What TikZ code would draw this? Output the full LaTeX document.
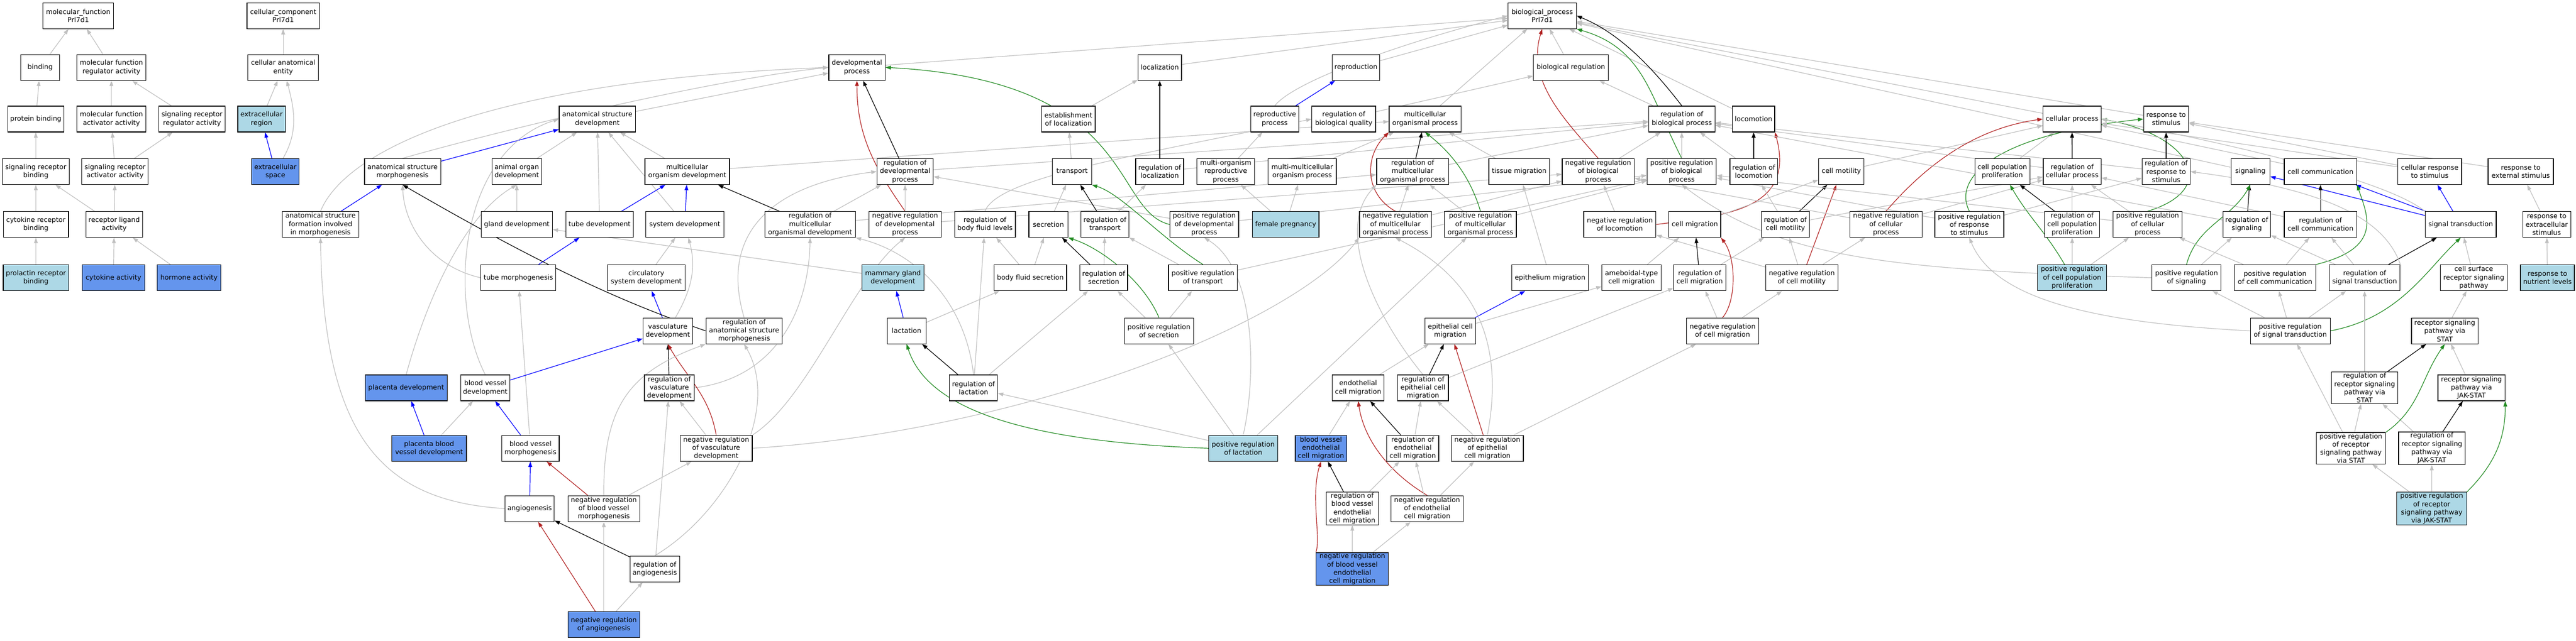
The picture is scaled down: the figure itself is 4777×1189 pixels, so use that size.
\documentclass[tikz,border=0pt]{standalone}
\usepackage{fontspec}
\setmainfont{DejaVu Sans}
\usetikzlibrary{arrows.meta}
\definecolor{egray}{RGB}{192,192,192}
\definecolor{lblue}{RGB}{173,216,230}
\definecolor{cblue}{RGB}{100,149,237}
\definecolor{ered}{RGB}{178,34,34}
\definecolor{egreen}{RGB}{34,139,34}
\pgfdeclarelayer{bg}
\pgfsetlayers{bg,main}
\begin{document}
\begin{tikzpicture}[x=1pt,y=-1pt,
  gobox/.style={draw=black,line width=1.2pt,fill=white,rectangle,align=center,inner xsep=2pt,inner ysep=1.5pt,minimum height=48pt,font=\fontsize{12.5}{15.2}\selectfont},
  lbox/.style={gobox,fill=lblue}, dbox/.style={gobox,fill=cblue},
  edg/.style={line width=1.2pt,-{Triangle[length=10pt,width=7pt]}},
  eGray/.style={edg,draw=egray}, eBlue/.style={edg,draw=blue}, eBlack/.style={edg,draw=black},
  eRed/.style={edg,draw=ered}, eGreen/.style={edg,draw=egreen}]
\useasboundingbox (0,0) rectangle (4777,1189);
% ---------- molecular function ----------
\node[gobox,minimum width=131.3] (mf) at (145.1,29.2) {molecular\_function\\Prl7d1};
\node[gobox,minimum width=72.4] (binding) at (74.5,125.1) {binding};
\node[gobox,minimum width=128.5] (mfreg) at (206.6,125.1) {molecular function\\regulator activity};
\node[gobox,minimum width=104.4] (protbind) at (66.4,221.0) {protein binding};
\node[gobox,minimum width=128.5] (mfact) at (206.6,221.0) {molecular function\\activator activity};
\node[gobox,minimum width=123] (srreg) at (356.1,221.0) {signaling receptor\\regulator activity};
\node[gobox,minimum width=123.4] (srbind) at (66.4,318.5) {signaling receptor\\binding};
\node[gobox,minimum width=123] (sract) at (213.3,318.5) {signaling receptor\\activator activity};
\node[gobox,minimum width=120.6] (crbind) at (66.6,416.7) {cytokine receptor\\binding};
\node[gobox,minimum width=104.8] (rla) at (211.7,416.7) {receptor ligand\\activity};
\node[lbox,minimum width=121.4] (prb) at (66.6,515.6) {prolactin receptor\\binding};
\node[dbox,minimum width=115.5] (cyto) at (210.4,515.6) {cytokine activity};
\node[dbox,minimum width=118.2] (horm) at (350.5,515.6) {hormone activity};
% ---------- cellular component ----------
\node[gobox,minimum width=134.4] (cc) at (525.1,29.2) {cellular\_component\\Prl7d1};
\node[gobox,minimum width=131.3] (cae) at (525.1,125.1) {cellular anatomical\\entity};
\node[lbox,minimum width=88.2] (ecr) at (485,221.0) {extracellular\\region};
\node[dbox,minimum width=88.2] (ecs) at (510.7,318.5) {extracellular\\space};
% ---------- development ----------
\node[gobox,minimum width=141.7] (asfim) at (594.4,416.7) {anatomical structure\\formation involved\\in morphogenesis};
\node[gobox,minimum width=141.2] (asm) at (746.5,318.5) {anatomical structure\\morphogenesis};
\node[gobox,minimum width=141.6] (asd) at (1107.7,221.0) {anatomical structure\\development};
\node[gobox,minimum width=91.7] (aod) at (958.3,318.5) {animal organ\\development};
\node[gobox,minimum width=131.7] (gland) at (958.4,416.7) {gland development};
\node[gobox,minimum width=125.3] (tubedev) at (1111.9,416.7) {tube development};
\node[gobox,minimum width=138.8] (tubemorph) at (961.2,515.6) {tube morphogenesis};
\node[dbox,minimum width=152.2] (placdev) at (753.2,720.0) {placenta development};
\node[gobox,minimum width=91.4] (bvd) at (899.9,720.0) {blood vessel\\development};
\node[dbox,minimum width=138.4] (pbvd) at (795.7,832.2) {placenta blood\\vessel development};
\node[gobox,minimum width=106.3] (bvm) at (983.8,832.2) {blood vessel\\morphogenesis};
\node[gobox,minimum width=91.3] (angio) at (982.2,944.1) {angiogenesis};
\node[gobox,minimum width=133.3] (nrbvm) at (1119.8,944.1) {negative regulation\\of blood vessel\\morphogenesis};
\node[dbox,minimum width=133.3] (nra) at (1119.8,1159.8) {negative regulation\\of angiogenesis};
\node[gobox,minimum width=91.9] (regangio) at (1214.2,1056.3) {regulation of\\angiogenesis};
\node[gobox,minimum width=157.1] (mod) at (1274.5,318.5) {multicellular\\organism development};
\node[gobox,minimum width=144.5] (sysdev) at (1270,416.7) {system development};
\node[gobox,minimum width=144.5] (circ) at (1198.5,515.6) {circulatory\\system development};
\node[gobox,minimum width=91.9] (vascdev) at (1238.3,614.2) {vasculature\\development};
\node[gobox,minimum width=92.4] (regvasc) at (1241.2,720.0) {regulation of\\vasculature\\development};
\node[gobox,minimum width=104.4] (devproc) at (1589.1,125.1) {developmental\\process};
\node[gobox,minimum width=104.4] (rdp) at (1678.4,318.5) {regulation of\\developmental\\process};
\node[gobox,minimum width=168] (rmod) at (1502.3,416.7) {regulation of\\multicellular\\organismal development};
\node[gobox,minimum width=133.7] (nrdp) at (1678.4,416.7) {negative regulation\\of developmental\\process};
\node[gobox,minimum width=112.8] (rbfl) at (1826.6,416.7) {regulation of\\body fluid levels};
\node[lbox,minimum width=114.6] (mgd) at (1655.9,515.6) {mammary gland\\development};
\node[gobox,minimum width=141.6] (rasm) at (1379.9,614.2) {regulation of\\anatomical structure\\morphogenesis};
\node[gobox,minimum width=72] (lact) at (1681.2,614.2) {lactation};
\node[gobox,minimum width=133.6] (nrvd) at (1328.1,832.2) {negative regulation\\of vasculature\\development};
\node[gobox,minimum width=89.1] (reglact) at (1805.3,720.0) {regulation of\\lactation};
% ---------- localization ----------
\node[gobox,minimum width=80.6] (loc) at (2150.7,125.1) {localization};
\node[gobox,minimum width=99.2] (estloc) at (1981.3,221.0) {establishment\\of localization};
\node[gobox,minimum width=72.4] (transport) at (1988,318.5) {transport};
\node[gobox,minimum width=89] (regloc) at (2150.5,318.5) {regulation of\\localization};
\node[gobox,minimum width=107.2] (morp) at (2273.1,318.5) {multi-organism\\reproductive\\process};
\node[gobox,minimum width=126.3] (mmop) at (2414.8,318.5) {multi-multicellular\\organism process};
\node[gobox,minimum width=88.5] (reprproc) at (2363.9,221.0) {reproductive\\process};
\node[gobox,minimum width=72.4] (secretion) at (1944.1,416.7) {secretion};
\node[gobox,minimum width=88.6] (regtrans) at (2049.1,416.7) {regulation of\\transport};
\node[gobox,minimum width=127.7] (prdp) at (2233.2,416.7) {positive regulation\\of developmental\\process};
\node[lbox,minimum width=123.6] (fpreg) at (2384.1,416.7) {female pregnancy};
\node[gobox,minimum width=134.4] (bfs) at (1910.7,515.6) {body fluid secretion};
\node[gobox,minimum width=88.6] (regsec) at (2046.7,515.6) {regulation of\\secretion};
\node[gobox,minimum width=127.7] (prt) at (2230.8,515.6) {positive regulation\\of transport};
\node[gobox,minimum width=128.1] (prsec) at (2149.2,614.2) {positive regulation\\of secretion};
\node[lbox,minimum width=128.1] (prlact) at (2305.4,832.2) {positive regulation\\of lactation};
\node[dbox,minimum width=95.3] (bveclm) at (2449.6,832.2) {blood vessel\\endothelial\\cell migration};
% ---------- biological process ----------
\node[gobox,minimum width=126.5] (bp) at (2859.9,29.2) {biological\_process\\Prl7d1};
\node[gobox,minimum width=88.2] (repro) at (2514.5,125.1) {reproduction};
\node[gobox,minimum width=138.8] (bioreg) at (2913,125.1) {biological regulation};
\node[gobox,minimum width=118.2] (rbq) at (2491.9,221.0) {regulation of\\biological quality};
\node[gobox,minimum width=133.2] (mop) at (2642.6,221.0) {multicellular\\organismal process};
\node[gobox,minimum width=133.3] (rmop) at (2619.7,318.5) {regulation of\\multicellular\\organismal process};
\node[gobox,minimum width=112.3] (tissmig) at (2817.2,318.5) {tissue migration};
\node[gobox,minimum width=133.4] (nrbp) at (2963.7,318.5) {negative regulation\\of biological\\process};
\node[gobox,minimum width=133.2] (nrmop) at (2587.6,416.7) {negative regulation\\of multicellular\\organismal process};
\node[gobox,minimum width=133.2] (prmop) at (2745.4,416.7) {positive regulation\\of multicellular\\organismal process};
\node[gobox,minimum width=133.8] (nrloc) at (3003.9,416.7) {negative regulation\\of locomotion};
\node[gobox,minimum width=142.4] (epimig) at (2874.5,515.6) {epithelium migration};
\node[gobox,minimum width=109.7] (amoeb) at (3025.5,515.6) {ameboidal-type\\cell migration};
\node[gobox,minimum width=94.1] (epicm) at (2689.4,614.2) {epithelial cell\\migration};
\node[gobox,minimum width=96.5] (ecm) at (2518.6,720.0) {endothelial\\cell migration};
\node[gobox,minimum width=94.5] (repicm) at (2638.7,720.0) {regulation of\\epithelial cell\\migration};
\node[gobox,minimum width=96.5] (recm) at (2619.8,832.2) {regulation of\\endothelial\\cell migration};
\node[gobox,minimum width=133.7] (nrepicm) at (2758.2,832.2) {negative regulation\\of epithelial\\cell migration};
\node[gobox,minimum width=96.9] (rbvecm) at (2507.7,944.1) {regulation of\\blood vessel\\endothelial\\cell migration};
\node[gobox,minimum width=133.3] (nrecm) at (2646.5,944.1) {negative regulation\\of endothelial\\cell migration};
\node[dbox,minimum width=134.1] (nrbvecm) at (2507.8,1056.3) {negative regulation\\of blood vessel\\endothelial\\cell migration};
\node[gobox,minimum width=123] (rbp) at (3118.8,221.0) {regulation of\\biological process};
\node[gobox,minimum width=78.3] (locom) at (3251.9,221.0) {locomotion};
\node[gobox,minimum width=128.1] (prbp) at (3118.6,318.5) {positive regulation\\of biological\\process};
\node[gobox,minimum width=88.2] (rlocom) at (3252.1,318.5) {regulation of\\locomotion};
\node[gobox,minimum width=84.2] (cellmot) at (3414.6,318.5) {cell motility};
\node[gobox,minimum width=96.1] (cellmig) at (3142.9,416.7) {cell migration};
\node[gobox,minimum width=88.6] (rcm) at (3310.8,416.7) {regulation of\\cell motility};
\node[gobox,minimum width=133.6] (nrcp) at (3497.4,416.7) {negative regulation\\of cellular\\process};
\node[gobox,minimum width=96.5] (rcmig) at (3151.9,515.6) {regulation of\\cell migration};
\node[gobox,minimum width=133.7] (nrcmot) at (3341.3,515.6) {negative regulation\\of cell motility};
\node[gobox,minimum width=134.1] (nrcmig) at (3194.3,614.2) {negative regulation\\of cell migration};
\node[gobox,minimum width=107.6] (cellproc) at (3842.4,221.0) {cellular process};
\node[gobox,minimum width=83.5] (rts) at (4016.9,221.0) {response to\\stimulus};
\node[gobox,minimum width=102] (cpp) at (3713.1,318.5) {cell population\\proliferation};
\node[gobox,minimum width=107.2] (rcp) at (3842.6,318.5) {regulation of\\cellular process};
\node[gobox,minimum width=88.9] (rrts) at (4017,318.5) {regulation of\\response to\\stimulus};
\node[gobox,minimum width=72.3] (signaling) at (4173.2,318.5) {signaling};
\node[gobox,minimum width=127.9] (prrts) at (3652,416.7) {positive regulation\\of response\\to stimulus};
\node[gobox,minimum width=102.4] (rcpp) at (3842.6,416.7) {regulation of\\cell population\\proliferation};
\node[gobox,minimum width=127.7] (prcp) at (3982.6,416.7) {positive regulation\\of cellular\\process};
\node[gobox,minimum width=88.2] (rsig) at (4166.4,416.7) {regulation of\\signaling};
\node[lbox,minimum width=128.1] (prcpp) at (3842.7,515.6) {positive regulation\\of cell population\\proliferation};
\node[gobox,minimum width=128.1] (prsig) at (4054.7,515.6) {positive regulation\\of signaling};
\node[gobox,minimum width=150.7] (prcc) at (4219,515.6) {positive regulation\\of cell communication};
\node[gobox,minimum width=147.9] (prst) at (4247.1,614.2) {positive regulation\\of signal transduction};
\node[gobox,minimum width=134.5] (cellcomm) at (4303.1,318.5) {cell communication};
\node[gobox,minimum width=118.3] (crts) at (4505.8,318.5) {cellular response\\to stimulus};
\node[gobox,minimum width=121] (rtes) at (4674.5,318.5) {response to\\external stimulus};
\node[gobox,minimum width=134.5] (rcc) at (4303.1,416.7) {regulation of\\cell communication};
\node[gobox,minimum width=131.7] (st) at (4563.1,416.7) {signal transduction};
\node[gobox,minimum width=89] (rtecs) at (4722.6,416.7) {response to\\extracellular\\stimulus};
\node[gobox,minimum width=131.3] (rst) at (4385,515.6) {regulation of\\signal transduction};
\node[gobox,minimum width=123.4] (csrsp) at (4587.4,515.6) {cell surface\\receptor signaling\\pathway};
\node[lbox,minimum width=100] (rtnl) at (4724,515.6) {response to\\nutrient levels};
\node[gobox,minimum width=123.4] (rspstat) at (4533.6,614.2) {receptor signaling\\pathway via\\STAT};
\node[gobox,minimum width=123.4] (rrspstat) at (4385,720.0) {regulation of\\receptor signaling\\pathway via\\STAT};
\node[gobox,minimum width=124.2] (rspjak) at (4583.1,720.0) {receptor signaling\\pathway via\\JAK-STAT};
\node[gobox,minimum width=128.6] (prrspstat) at (4359.5,832.2) {positive regulation\\of receptor\\signaling pathway\\via STAT};
\node[gobox,minimum width=123.4] (rrspjak) at (4509.6,832.2) {regulation of\\receptor signaling\\pathway via\\JAK-STAT};
\node[lbox,minimum width=129.3] (prrspjak) at (4509.4,944.1) {positive regulation\\of receptor\\signaling pathway\\via JAK-STAT};
% ================= edges =================
\begin{pgfonlayer}{bg}
\fill[white] (0,0) rectangle (4777,1189);
% MF
\draw[eGray] (binding) -- (mf);
\draw[eGray] (mfreg) -- (mf);
\draw[eGray] (protbind) -- (binding);
\draw[eGray] (mfact) -- (mfreg);
\draw[eGray] (srreg) -- (mfreg);
\draw[eGray] (srbind) -- (protbind);
\draw[eGray] (sract) -- (mfact);
\draw[eGray] (sract) -- (srreg);
\draw[eGray] (crbind) -- (srbind);
\draw[eGray] (rla) -- (srbind);
\draw[eGray] (rla) -- (sract);
\draw[eGray] (prb) -- (crbind);
\draw[eGray] (cyto) -- (rla);
\draw[eGray] (horm) -- (rla);
% CC
\draw[eGray] (cae) -- (cc);
\draw[eGray] (ecr) -- (cae);
\draw[eBlue] (ecs) -- (ecr);
\draw[eGray] (ecs) to[out=60,in=-75] (cae);
% development
\draw[eGray] (asfim.north) .. controls (640,280) and (900,150) .. (devproc.west);
\draw[eGray] (asm.north) .. controls (900,250) and (1300,150) .. (devproc.west);
\draw[eGray] (asd) -- (devproc);
\draw[eBlue] (asm) -- (asd);
\draw[eBlue] (asfim) -- (asm);
\draw[eGray] (aod) -- (asd);
\draw[eGray] (mod) -- (asd);
\draw[eGray] (tubedev) -- (asd);
\draw[eGray] (sysdev) -- (asd);
\draw[eGray] (bvd.north) .. controls (830,560) and (850,280) .. (asd.west);
\draw[eBlue] (sysdev) -- (mod);
\draw[eBlue] (tubedev) -- (mod);
\draw[eGray] (gland) -- (aod);
\draw[eGray] (placdev.north) .. controls (790,560) and (860,400) .. (aod.south);
\draw[eGray] (mgd) -- (gland);
\draw[eBlue] (tubemorph) -- (tubedev);
\draw[eGray] (tubemorph.west) .. controls (800,495) and (750,420) .. (asm.south);
\draw[eGray] (circ) -- (sysdev);
\draw[eBlue] (vascdev) -- (circ);
\draw[eGray] (vascdev) to[out=60,in=-75] (sysdev);
\draw[eBlack] (rasm.west) .. controls (1150,560) and (1000,490) .. (asm.south);
\draw[eGray] (rasm.north) .. controls (1330,420) and (1450,340) .. (rdp.west);
\draw[eBlack] (regvasc) -- (vascdev);
\draw[eGray] (regvasc.east) .. controls (1450,700) and (1500,560) .. (rmod.south);
\draw[eRed] (nrvd.north) to[out=100,in=-60] (vascdev.south);
\draw[eGray] (nrvd) -- (regvasc);
\draw[eGray] (nrvd.north east) .. controls (1500,740) and (1580,520) .. (nrdp.south);
\draw[eGray] (nrvd.east) .. controls (1900,800) and (2400,600) .. (nrmop.south west);
\draw[eGray] (regangio) -- (regvasc);
\draw[eGray] (regangio.north) .. controls (1350,950) and (1450,760) .. (rasm.south);
\draw[eBlack] (regangio) -- (angio);
\draw[eRed] (nra) -- (angio);
\draw[eGray] (nra) -- (regangio);
\draw[eGray] (nra) -- (nrbvm);
\draw[eRed] (nrbvm) -- (bvm);
\draw[eGray] (nrbvm.north) .. controls (1118,750) and (1170,690) .. (rasm.south west);
\draw[eGray] (nrbvm) -- (nrvd);
\draw[eBlue] (angio) -- (bvm);
\draw[eGray] (angio.west) .. controls (700,930) and (600,800) .. (asfim.south);
\draw[eBlue] (bvm) -- (bvd);
\draw[eGray] (bvm) -- (tubemorph);
\draw[eBlue] (pbvd) -- (placdev);
\draw[eGray] (pbvd) -- (bvd);
\draw[eBlue] (bvd) -- (vascdev);
\draw[eGray] (mod) -- (mop);
\draw[eBlack] (rdp) -- (devproc);
\draw[eRed] (nrdp.north) to[out=125,in=-90] (devproc.south);
\draw[eGray] (nrdp) -- (rdp);
\draw[eBlack] (rmod) -- (mod);
\draw[eGray] (rmod) -- (rdp);
\draw[eGray] (rmod) -- (rmop);
\draw[eGray] (rdp) -- (rbp);
\draw[eGray] (prdp) -- (rdp);
\draw[eGreen] (prdp.west) .. controls (2060,390) and (2110,150) .. (devproc.east);
\draw[eGray] (prdp) -- (prbp);
\draw[eGray] (nrdp) -- (nrbp);
\draw[eBlue] (lact) -- (mgd);
\draw[eGray] (lact) -- (bfs);
\draw[eBlack] (reglact) -- (lact);
\draw[eGray] (reglact.north) .. controls (1790,560) and (1700,470) .. (rmod.south east);
\draw[eGray] (reglact) -- (rbfl);
\draw[eGray] (reglact) -- (regsec);
\draw[eGreen] (prlact.west) .. controls (1900,820) and (1720,760) .. (lact.south);
\draw[eGray] (prlact) -- (reglact);
\draw[eGray] (prlact) -- (prsec);
\draw[eGray] (prlact.north) .. controls (2330,700) and (2330,500) .. (prdp.south);
\draw[eGray] (prlact) -- (prmop);
% localization
\draw[eGray] (rbfl.north) .. controls (1850,330) and (2100,290) .. (rbq.west);
\draw[eGray] (bfs) -- (rbfl);
\draw[eGray] (bfs) -- (secretion);
\draw[eGray] (secretion) -- (transport);
\draw[eGray] (transport) -- (estloc);
\draw[eGray] (estloc) -- (loc);
\draw[eBlack, line width=2pt] (regloc) -- (loc);
\draw[eGray] (regloc) -- (rbp);
\draw[eBlack] (regtrans) -- (transport);
\draw[eGray] (regtrans) -- (regloc);
\draw[eBlack] (regsec) -- (secretion);
\draw[eGray] (regsec) -- (regtrans);
\draw[eGray] (prsec) -- (regsec);
\draw[eGreen] (prsec.north) .. controls (2120,520) and (2040,460) .. (secretion.south east);
\draw[eGray] (prsec) -- (prt);
\draw[eGreen] (prt.north) .. controls (2150,440) and (2080,360) .. (transport.south east);
\draw[eGray] (prt) -- (regtrans);
\draw[eGray] (prt) -- (prbp);
\draw[eBlue] (reprproc) -- (repro);
\draw[eGray] (reprproc.north) .. controls (2400,150) and (2600,80) .. (bp.west);
\draw[eGray] (morp) -- (reprproc);
\draw[eGray] (fpreg) -- (morp);
\draw[eGray] (fpreg) -- (mmop);
\draw[eGray] (mmop) -- (mop);
% biological process top
\draw[eGray] (devproc) -- (bp);
\draw[eGray] (loc) -- (bp);
\draw[eGray] (repro) -- (bp);
\draw[eGray] (bioreg) -- (bp);
\draw[eGray] (mop) -- (bp);
\draw[eGray] (cellproc) -- (bp);
\draw[eGray] (rts) -- (bp);
\draw[eGray] (locom) -- (bp);
\draw[eGray] (signaling) -- (bp);
\draw[eBlack] (rbp.north) .. controls (3060,120) and (3000,60) .. (bp.east);
\draw[eGreen] (prbp.north) .. controls (3060,180) and (3050,90) .. (bp.south east);
\draw[eRed] (nrbp.north) .. controls (2900,220) and (2830,150) .. (bp.south);
\draw[eGray] (rbq) -- (bioreg);
\draw[eGray] (rbp) -- (bioreg);
\draw[eBlack] (rmop) -- (mop);
\draw[eGray] (rmop) -- (rbp);
\draw[eRed] (nrmop.north) .. controls (2530,360) and (2530,290) .. (mop.south west);
\draw[eGray] (nrmop) -- (rmop);
\draw[eGray] (nrmop) -- (nrbp);
\draw[eGreen] (prmop.north) .. controls (2730,340) and (2700,290) .. (mop.south);
\draw[eGray] (prmop) -- (rmop);
\draw[eGray] (prmop) -- (prbp);
\draw[eGray] (tissmig) -- (mop);
% migration
\draw[eGray] (epimig) -- (tissmig);
\draw[eBlue] (epicm) -- (epimig);
\draw[eGray] (epicm) -- (amoeb);
\draw[eGray] (amoeb) -- (cellmig);
\draw[eGray] (ecm) -- (epicm);
\draw[eBlack] (repicm) -- (epicm);
\draw[eGray] (repicm) -- (rcmig);
\draw[eGray] (repicm.north) .. controls (2560,600) and (2470,430) .. (rmop.south west);
\draw[eRed] (nrepicm) -- (epicm);
\draw[eGray] (nrepicm) -- (repicm);
\draw[eGray] (nrepicm) -- (nrcmig);
\draw[eGray] (nrepicm.north) .. controls (2790,640) and (2740,520) .. (nrmop.south);
\draw[eBlack] (recm) -- (ecm);
\draw[eGray] (recm) -- (repicm);
\draw[eRed] (nrecm.north) .. controls (2580,880) and (2530,820) .. (ecm.south);
\draw[eGray] (nrecm) -- (recm);
\draw[eGray] (nrecm) -- (nrepicm);
\draw[eGray] (bveclm) -- (ecm);
\draw[eBlack] (rbvecm) -- (bveclm);
\draw[eGray] (rbvecm) -- (recm);
\draw[eRed] (nrbvecm.north west) .. controls (2450,1000) and (2430,920) .. (bveclm.south);
\draw[eGray] (nrbvecm) -- (rbvecm);
\draw[eGray] (nrbvecm) -- (nrecm);
\draw[eGray] (prbp) -- (rbp);
\draw[eGray] (nrbp) -- (rbp);
\draw[eBlack, line width=2pt] (rlocom) -- (locom);
\draw[eGray] (rlocom) -- (rbp);
\draw[eRed] (nrloc.east) .. controls (3200,400) and (3330,390) .. (locom.south east);
\draw[eGray] (nrloc) -- (nrbp);
\draw[eGray] (cellmig) -- (cellmot);
\draw[eBlack] (rcm) -- (cellmot);
\draw[eGray] (rcm) -- (rlocom);
\draw[eGray] (rcm) -- (rcp);
\draw[eRed] (nrcmot) -- (cellmot);
\draw[eGray] (nrcmot) -- (rcm);
\draw[eGray] (nrcmot) -- (nrcp);
\draw[eGray] (nrcmot) -- (nrloc);
\draw[eBlack] (rcmig) -- (cellmig);
\draw[eGray] (rcmig) -- (rcm);
\draw[eRed] (nrcmig.north) .. controls (3220,560) and (3220,480) .. (cellmig.south east);
\draw[eGray] (nrcmig) -- (rcmig);
\draw[eGray] (nrcmig) -- (nrcmot);
\draw[eGray] (cellmot) -- (cellproc);
% cellular process
\draw[eRed] (nrcp.north) .. controls (3560,320) and (3650,240) .. (cellproc.west);
\draw[eGray] (nrcp) -- (rcp);
\draw[eGray] (nrcp) -- (nrbp);
\draw[eGreen] (prcp.north) .. controls (4120,350) and (4060,250) .. (cellproc.east);
\draw[eGray] (prcp) -- (rcp);
\draw[eGray] (prcp) -- (prbp);
\draw[eBlack, line width=1.6pt] (rcp) -- (cellproc);
\draw[eGray] (rcp) -- (rbp);
\draw[eGray] (cpp) -- (cellproc);
\draw[eBlack] (rcpp) -- (cpp);
\draw[eGray] (rcpp) -- (rcp);
\draw[eGreen] (prcpp) to[out=120,in=-60] (cpp);
\draw[eGray] (prcpp) -- (rcpp);
\draw[eGray] (prcpp) -- (prcp);
\draw[eGreen] (prrts.north) .. controls (3620,330) and (3700,250) .. (rts.west);
\draw[eGray] (prrts) -- (rrts);
\draw[eGray] (prrts) -- (prbp);
\draw[eBlack, line width=1.6pt] (rrts) -- (rts);
\draw[eGray] (rrts) -- (rbp);
% signaling
\draw[eBlue] (st) -- (signaling);
\draw[eBlue] (st) -- (cellcomm);
\draw[eBlue] (st) -- (crts);
\draw[eGray] (st.north west) .. controls (4420,330) and (4100,260) .. (cellproc.east);
\draw[eBlack] (rsig) -- (signaling);
\draw[eGray] (rsig) -- (rbp);
\draw[eBlack] (rcc) -- (cellcomm);
\draw[eGray] (rcc) -- (rcp);
\draw[eGreen] (prsig.north) to[out=75,in=-120] (signaling.south);
\draw[eGray] (prsig) -- (rsig);
\draw[eGray] (prsig.west) .. controls (3500,500) and (3300,480) .. (prbp.south);
\draw[eGray] (prst) -- (prsig);
\draw[eGray] (prst.west) .. controls (3900,600) and (3700,560) .. (prrts.south);
\draw[eGreen] (prcc.north east) .. controls (4420,460) and (4390,400) .. (cellcomm.south east);
\draw[eGray] (prcc) -- (rcc);
\draw[eGray] (prcc) -- (prcp);
\draw[eGray] (prst) -- (prcc);
\draw[eGray] (prst) -- (rst);
\draw[eGreen] (prst.east) .. controls (4450,590) and (4500,500) .. (st.south);
\draw[eBlack] (rst) -- (st);
\draw[eGray] (rst) -- (rcc);
\draw[eGray] (rst) -- (rsig);
\draw[eGray] (rst.north east) .. controls (4420,400) and (4300,350) .. (rrts.east);
\draw[eGray] (csrsp) -- (st);
\draw[eGray] (rspstat) -- (csrsp);
\draw[eGray] (rspjak) -- (rspstat);
\draw[eBlack] (rrspstat) -- (rspstat);
\draw[eGray] (rrspstat) -- (rst);
\draw[eBlack] (rrspjak) -- (rspjak);
\draw[eGray] (rrspjak) -- (rrspstat);
\draw[eGreen] (prrspstat.north east) to[out=35,in=-125] (rspstat.south);
\draw[eGray] (prrspstat) -- (rrspstat);
\draw[eGray] (prrspstat) -- (prst);
\draw[eGreen] (prrspjak.north east) to[out=45,in=-90] (rspjak.south east);
\draw[eGray] (prrspjak) -- (rrspjak);
\draw[eGray] (prrspjak) -- (prrspstat);
\draw[eGray] (cellcomm) -- (cellproc);
\draw[eGray] (crts) -- (rts);
\draw[eGray] (crts) -- (cellproc);
\draw[eGray] (rtes) -- (rts);
\draw[eGray] (rtecs) -- (rtes);
\draw[eGray] (rtnl) -- (rtecs);
\end{pgfonlayer}
\end{tikzpicture}
\end{document}
